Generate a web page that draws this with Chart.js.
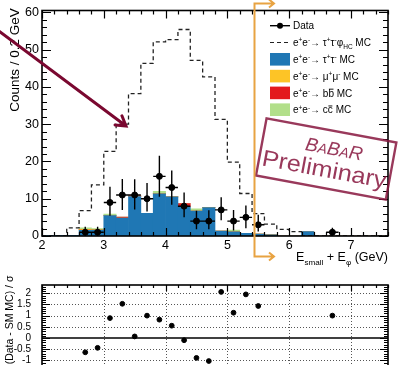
<!DOCTYPE html>
<html>
<head>
<meta charset="utf-8">
<script src="https://cdn.jsdelivr.net/npm/chart.js@4"></script>
<style>
  html, body { margin: 0; padding: 0; background: #fff; overflow: hidden; }
  #wrap { position: relative; width: 403px; height: 365px; overflow: hidden; }
  #canvas-top { position: absolute; left: 0; top: 0; }
  #canvas-bottom { position: absolute; left: 0; top: 268px; }
</style>
</head>
<body>
<div id="wrap">
  <canvas id="canvas-top" width="403" height="268"></canvas>
  <canvas id="canvas-bottom" width="403" height="140"></canvas>
</div>
<script>
// bins of 0.2 GeV, from 2.0 to 7.6
const binCenters = [2.1, 2.3, 2.5, 2.7, 2.9, 3.1, 3.3, 3.5, 3.7, 3.9, 4.1, 4.3, 4.5, 4.7,
                    4.9, 5.1, 5.3, 5.5, 5.7, 5.9, 6.1, 6.3, 6.5, 6.7, 6.9, 7.1, 7.3, 7.5];
const tautauMC = [0.15, 0.15, 0.15, 1.5, 1.6, 5.5, 4.8, 10.6, 6.1, 11.3, 10.5, 7.8, 6.7, 7.6,
                  1.3, 1.1, 0.7, 0.5, 0.3, 0, 0, 1.2, 0, 0, 0, 0, 0, 0];
const mumuMC   = [0, 0, 0, 0.2, 0.1, 0, 0, 0, 0, 0, 0, 0, 0, 0,
                  0, 0, 0, 0, 0, 0, 0, 0, 0, 0, 0, 0, 0, 0];
const bbMC     = [0, 0, 0, 0.1, 0, 0, 0.3, 0.2, 0, 0, 0, 0.9, 0, 0,
                  0, 0, 0, 0, 0, 0, 0, 0, 0, 0, 0, 0, 0, 0];
const ccMC     = [0, 0, 0, 0.4, 0.3, 0.4, 0, 0, 0, 0.7, 0, 0, 0.6, 0.1,
                  0, 0.5, 0, 0, 0, 0, 0, 0, 0, 0, 0, 0, 0, 0];
const signalMC = [0, 0, 0, 2.2, 6.8, 13.7, 22.7, 30, 38.2, 46.3, 52.1, 52.7, 55.4, 47.1,
                  42.7, 31.3, 19.8, 11.4, 6.0, 3.2, 1.8, 1.2, 0, 0, 0, 0, 0, 0];

const dataX       = [2.7, 2.9, 3.1, 3.3, 3.5, 3.7, 3.9, 4.1, 4.3, 4.5, 4.7, 4.9, 5.1, 5.3, 5.5, 6.7];
const dataY       = [1, 1, 9, 11, 11, 10, 16, 13, 8, 4, 4, 7, 4, 5, 3, 1];
const dataErrUp   = [1.5, 1.5, 4.2, 4.3, 4.2, 4.2, 5.5, 4.6, 3.7, 2.8, 2.9, 3.4, 3.0, 3.2, 2.7, 1.2];
const dataErrDown = [1.0, 1.0, 3.6, 4.0, 3.9, 3.4, 5.5, 4.6, 3.0, 2.2, 2.2, 2.8, 2.5, 2.9, 1.8, 1.0];
const pullY       = [-0.64, -0.44, 0.89, 1.53, 0.07, 1.0, 0.82, 0.55, -0.1, -0.89, -1.03,
                     2.06, 1.13, 1.95, 1.43, 1.0];

const xTicks = [2, 3, 4, 5, 6, 7];
const yTicks = [0, 10, 20, 30, 40, 50, 60];
const pullTicks = [-1, -0.5, 0, 0.5, 1, 1.5, 2];
const pullGrid = [-1, -0.5, 0.5, 1, 1.5, 2];

const BIN = 0.2;
const FONT = '"Liberation Sans", Arial, Helvetica, sans-serif';
const BLUE = 'rgb(31,119,180)';
const YELLOW = 'rgb(253,196,38)';
const RED = 'rgb(227,26,28)';
const GREEN = 'rgb(178,223,138)';
const STAMP = 'rgba(135,22,62,0.85)';
const ORANGE = 'rgb(232,163,66)';
const MAROON = 'rgb(122,8,48)';

const EE = [['e', 'n'], ['+', 'sup'], ['e', 'n'], ['-', 'sup'], ['\u2192 ', 'n']];
const legendRows = [
  [['Data', 'n']],
  EE.concat([['\u03c4', 'n'], ['+', 'sup'], ['\u03c4', 'n'], ['-', 'sup'], ['\u03c6', 'n'], ['HC', 'sub'], [' MC', 'n']]),
  EE.concat([['\u03c4', 'n'], ['+', 'sup'], ['\u03c4', 'n'], ['-', 'sup'], [' MC', 'n']]),
  EE.concat([['\u03bc', 'n'], ['+', 'sup'], ['\u03bc', 'n'], ['-', 'sup'], [' MC', 'n']]),
  EE.concat([['b', 'n'], ['b', 'bar'], [' MC', 'n']]),
  EE.concat([['c', 'n'], ['c', 'bar'], [' MC', 'n']])
];
const legendFills = [null, null, BLUE, YELLOW, RED, GREEN];

function binPoints(values) {
  return binCenters.map((c, i) => ({ x: c, y: values[i] }));
}

const signalSteps = binCenters.map((c, i) => ({ x: c - BIN / 2, y: signalMC[i] }));
signalSteps.push({ x: binCenters[binCenters.length - 1] + BIN / 2, y: signalMC[signalMC.length - 1] });

function richText(ctx, parts, x, y, size, align) {
  const segs = parts.map(([t, m]) => {
    const s = (m === 'sup' || m === 'sub') ? size * 0.65 : size;
    ctx.font = s + 'px ' + FONT;
    return { t, m, s, w: ctx.measureText(t).width };
  });
  const total = segs.reduce((a, s) => a + s.w, 0);
  let cx = align === 'right' ? x - total : x;
  ctx.textAlign = 'left';
  ctx.textBaseline = 'alphabetic';
  for (const s of segs) {
    ctx.font = s.s + 'px ' + FONT;
    let dy = 0;
    if (s.m === 'sup') dy = -size * 0.38;
    if (s.m === 'sub') dy = size * 0.3;
    ctx.fillText(s.t, cx, y + dy);
    if (s.m === 'bar') ctx.fillRect(cx + 0.5, y - size * 0.78, s.w - 1, 0.9);
    cx += s.w;
  }
  return total;
}

function frameTicks(chart, cfg) {
  const { ctx, chartArea: a } = chart;
  const x = chart.scales.x, y = chart.scales.y;
  ctx.save();
  ctx.setLineDash([]);
  ctx.strokeStyle = '#000';
  ctx.lineWidth = 1.2;
  ctx.beginPath();
  const nx = Math.round((cfg.xMax - cfg.xMin) / cfg.xStep);
  for (let i = 0; i <= nx; i++) {
    const v = cfg.xMin + i * cfg.xStep;
    const px = Math.round(x.getPixelForValue(v)) + 0.5;
    const major = Math.abs(v - Math.round(v)) < 1e-6;
    const len = major ? cfg.xMajor : cfg.xMinor;
    ctx.moveTo(px, a.bottom); ctx.lineTo(px, a.bottom - len);
    ctx.moveTo(px, a.top); ctx.lineTo(px, a.top + len);
  }
  const ny = Math.round((cfg.yMax - cfg.yMin) / cfg.yStep);
  for (let i = 0; i <= ny; i++) {
    const v = cfg.yMin + i * cfg.yStep;
    const py = Math.round(y.getPixelForValue(v)) + 0.5;
    const r = v / cfg.yMajorEvery;
    const major = Math.abs(r - Math.round(r)) < 1e-6;
    const len = major ? cfg.yMajor : cfg.yMinor;
    ctx.moveTo(a.left, py); ctx.lineTo(a.left + len, py);
    ctx.moveTo(a.right, py); ctx.lineTo(a.right - len, py);
  }
  ctx.stroke();
  ctx.lineWidth = 1.6;
  ctx.strokeRect(a.left, a.top, a.right - a.left, a.bottom - a.top);
  ctx.restore();
}

function chevron(ctx, tx, ty, dir, len) {
  ctx.moveTo(tx - dir * len, ty - len * 0.8);
  ctx.lineTo(tx, ty);
  ctx.lineTo(tx - dir * len, ty + len * 0.8);
}

const topDecor = {
  id: 'topDecor',
  afterDatasetsDraw(chart) {
    const { ctx, scales: { x, y } } = chart;
    ctx.save();
    ctx.strokeStyle = '#000';
    ctx.lineWidth = 1.4;
    ctx.beginPath();
    dataX.forEach((v, i) => {
      const px = x.getPixelForValue(v);
      const py = y.getPixelForValue(dataY[i]);
      ctx.moveTo(x.getPixelForValue(v - BIN / 2), py);
      ctx.lineTo(x.getPixelForValue(v + BIN / 2), py);
      ctx.moveTo(px, y.getPixelForValue(dataY[i] + dataErrUp[i]));
      ctx.lineTo(px, y.getPixelForValue(Math.max(0, dataY[i] - dataErrDown[i])));
    });
    ctx.stroke();
    ctx.restore();
  },
  afterDraw(chart) {
    const ctx = chart.ctx;
    frameTicks(chart, { xMin: 2, xMax: 7.6, xStep: 0.2, xMajor: 8, xMinor: 4,
                        yMin: 0, yMax: 60, yStep: 2, yMajorEvery: 10, yMajor: 9, yMinor: 5 });
    ctx.save();
    ctx.fillStyle = '#000';
    // y title
    ctx.save();
    ctx.translate(19, 60);
    ctx.rotate(-Math.PI / 2);
    ctx.font = '13.5px ' + FONT;
    ctx.textAlign = 'center';
    ctx.textBaseline = 'alphabetic';
    ctx.fillText('Counts / 0.2 GeV', 0, 0);
    ctx.restore();
    // x title
    richText(ctx, [['E', 'n'], ['small', 'sub'], [' + E', 'n'], ['\u03c6', 'sub'], [' (GeV)', 'n']],
             388, 261, 12.5, 'right');
    // legend
    const lx = 270, ly = 25.7, step = 16.8;
    legendRows.forEach((row, i) => {
      const cy = ly + i * step;
      if (i === 0) {
        ctx.lineWidth = 1.4; ctx.strokeStyle = '#000';
        ctx.beginPath(); ctx.moveTo(lx, cy); ctx.lineTo(lx + 20, cy); ctx.stroke();
        ctx.beginPath(); ctx.arc(lx + 10, cy, 3, 0, Math.PI * 2); ctx.fill();
      } else if (i === 1) {
        ctx.lineWidth = 1.2; ctx.strokeStyle = '#222'; ctx.setLineDash([4, 3]);
        ctx.beginPath(); ctx.moveTo(lx, cy); ctx.lineTo(lx + 20, cy); ctx.stroke();
        ctx.setLineDash([]);
      } else {
        ctx.fillStyle = legendFills[i];
        ctx.fillRect(lx, cy - 6.3, 20, 12.6);
        ctx.fillStyle = '#000';
      }
      richText(ctx, row, lx + 23, cy + 3.6, 10, 'left');
    });
    // stamp
    ctx.save();
    ctx.translate(326, 160);
    ctx.rotate(10.5 * Math.PI / 180);
    ctx.strokeStyle = STAMP;
    ctx.fillStyle = STAMP;
    ctx.lineWidth = 2.4;
    ctx.strokeRect(-66, -30, 132, 58);
    const big = 'italic 19px ' + FONT, small = 'italic 14px ' + FONT;
    const parts = [['B', big], ['A', small], ['B', big], ['A', small], ['R', big]];
    let w = 0;
    parts.forEach(([t, f]) => { ctx.font = f; w += ctx.measureText(t).width; });
    let bx = 6 - w / 2;
    ctx.textAlign = 'left';
    parts.forEach(([t, f]) => { ctx.font = f; ctx.fillText(t, bx, -6); bx += ctx.measureText(t).width; });
    ctx.font = '23px ' + FONT;
    const pw = ctx.measureText('Preliminary').width;
    ctx.save();
    ctx.scale(126 / pw, 1);
    ctx.textAlign = 'center';
    ctx.fillText('Preliminary', 0, 17);
    ctx.restore();
    ctx.restore();
    // orange bracket
    ctx.strokeStyle = ORANGE;
    ctx.lineWidth = 2;
    ctx.beginPath();
    ctx.moveTo(273, 3.5); ctx.lineTo(254.5, 3.5); ctx.lineTo(254.5, 256.5); ctx.lineTo(273, 256.5);
    chevron(ctx, 274, 3.5, 1, 5);
    chevron(ctx, 274, 256.5, 1, 5);
    ctx.stroke();
    // maroon arrow
    ctx.strokeStyle = MAROON;
    ctx.lineWidth = 3;
    ctx.lineCap = 'round';
    const x0 = -2, y0 = 30.5, x1 = 126, y1 = 126;
    const ang = Math.atan2(y1 - y0, x1 - x0);
    ctx.beginPath();
    ctx.moveTo(x0, y0); ctx.lineTo(x1, y1);
    ctx.moveTo(x1 - 11 * Math.cos(ang - 0.55), y1 - 11 * Math.sin(ang - 0.55));
    ctx.lineTo(x1, y1);
    ctx.lineTo(x1 - 11 * Math.cos(ang + 0.55), y1 - 11 * Math.sin(ang + 0.55));
    ctx.stroke();
    ctx.restore();
  }
};

const bottomDecor = {
  id: 'bottomDecor',
  beforeDatasetsDraw(chart) {
    const { ctx, chartArea: a, scales: { x, y } } = chart;
    ctx.save();
    ctx.strokeStyle = '#555';
    ctx.lineWidth = 1;
    ctx.setLineDash([1, 2]);
    ctx.beginPath();
    pullGrid.forEach(v => {
      const py = Math.round(y.getPixelForValue(v)) + 0.5;
      ctx.moveTo(a.left, py); ctx.lineTo(a.right, py);
    });
    xTicks.slice(1).forEach(v => {
      const px = Math.round(x.getPixelForValue(v)) + 0.5;
      ctx.moveTo(px, a.top); ctx.lineTo(px, a.bottom);
    });
    ctx.stroke();
    ctx.setLineDash([]);
    ctx.strokeStyle = '#000';
    ctx.lineWidth = 1.6;
    ctx.beginPath();
    const p0 = y.getPixelForValue(0);
    ctx.moveTo(a.left, p0); ctx.lineTo(a.right, p0);
    ctx.stroke();
    ctx.restore();
  },
  afterDraw(chart) {
    const ctx = chart.ctx;
    frameTicks(chart, { xMin: 2, xMax: 7.6, xStep: 0.2, xMajor: 6, xMinor: 3,
                        yMin: -2.3, yMax: 2.3, yStep: 0.1, yMajorEvery: 0.5, yMajor: 8, yMinor: 4 });
    ctx.save();
    ctx.fillStyle = '#000';
    ctx.translate(13, 52);
    ctx.rotate(-Math.PI / 2);
    ctx.font = '10.5px ' + FONT;
    ctx.textAlign = 'center';
    ctx.fillText('(Data - SM MC) / \u03c3', 0, 0);
    ctx.restore();
  }
};

const fixedTicks = list => scale => { scale.ticks = list.map(v => ({ value: v })); };
const plainLabel = v => String(v);

new Chart(document.getElementById('canvas-top'), {
  type: 'bar',
  data: {
    datasets: [
      { type: 'scatter', label: 'Data', data: dataX.map((v, i) => ({ x: v, y: dataY[i] })),
        backgroundColor: '#000', borderColor: '#000', pointRadius: 3, stack: 'data', order: 0 },
      { type: 'line', label: 'signal', data: signalSteps, stepped: 'after', borderColor: '#222',
        borderDash: [4, 3], borderWidth: 1.3, pointRadius: 0, fill: false, stack: 'sig', order: 1 },
      { label: 'tautau', data: binPoints(tautauMC), backgroundColor: BLUE, stack: 'mc', order: 2 },
      { label: 'mumu', data: binPoints(mumuMC), backgroundColor: YELLOW, stack: 'mc', order: 2 },
      { label: 'bb', data: binPoints(bbMC), backgroundColor: RED, stack: 'mc', order: 2 },
      { label: 'cc', data: binPoints(ccMC), backgroundColor: GREEN, stack: 'mc', order: 2 }
    ]
  },
  options: {
    responsive: false,
    animation: false,
    categoryPercentage: 1,
    barPercentage: 1,
    layout: { padding: { top: 9.5, right: 15, left: 0, bottom: 0 } },
    plugins: { legend: { display: false }, tooltip: { enabled: false } },
    scales: {
      x: {
        type: 'linear', min: 2, max: 7.6, offset: false,
        grid: { display: false, drawTicks: false, offset: false },
        border: { display: false },
        afterBuildTicks: fixedTicks(xTicks),
        afterFit: s => { s.height = 32; },
        ticks: { color: '#000', padding: 2, font: { family: FONT, size: 12.5 }, callback: plainLabel }
      },
      y: {
        stacked: true, min: 0, max: 60.5,
        grid: { display: false, drawTicks: false },
        border: { display: false },
        afterBuildTicks: fixedTicks(yTicks),
        afterFit: s => { s.width = 42; },
        ticks: { color: '#000', padding: 3, font: { family: FONT, size: 12.5 }, callback: plainLabel }
      }
    }
  },
  plugins: [topDecor]
});

new Chart(document.getElementById('canvas-bottom'), {
  type: 'scatter',
  data: {
    datasets: [{
      label: 'pull', data: dataX.map((v, i) => ({ x: v, y: pullY[i] })),
      backgroundColor: '#000', borderColor: '#000', pointRadius: 2.4
    }]
  },
  options: {
    responsive: false,
    animation: false,
    layout: { padding: { top: 8, right: 15, left: 0, bottom: 16.4 } },
    plugins: { legend: { display: false }, tooltip: { enabled: false } },
    scales: {
      x: { type: 'linear', min: 2, max: 7.6, display: false },
      y: {
        min: -2.37, max: 2.37,
        grid: { display: false, drawTicks: false },
        border: { display: false },
        afterBuildTicks: fixedTicks(pullTicks),
        afterFit: s => { s.width = 42; },
        ticks: { color: '#000', padding: 11, font: { family: FONT, size: 10 }, callback: plainLabel }
      }
    }
  },
  plugins: [bottomDecor]
});
</script>
</body>
</html>
